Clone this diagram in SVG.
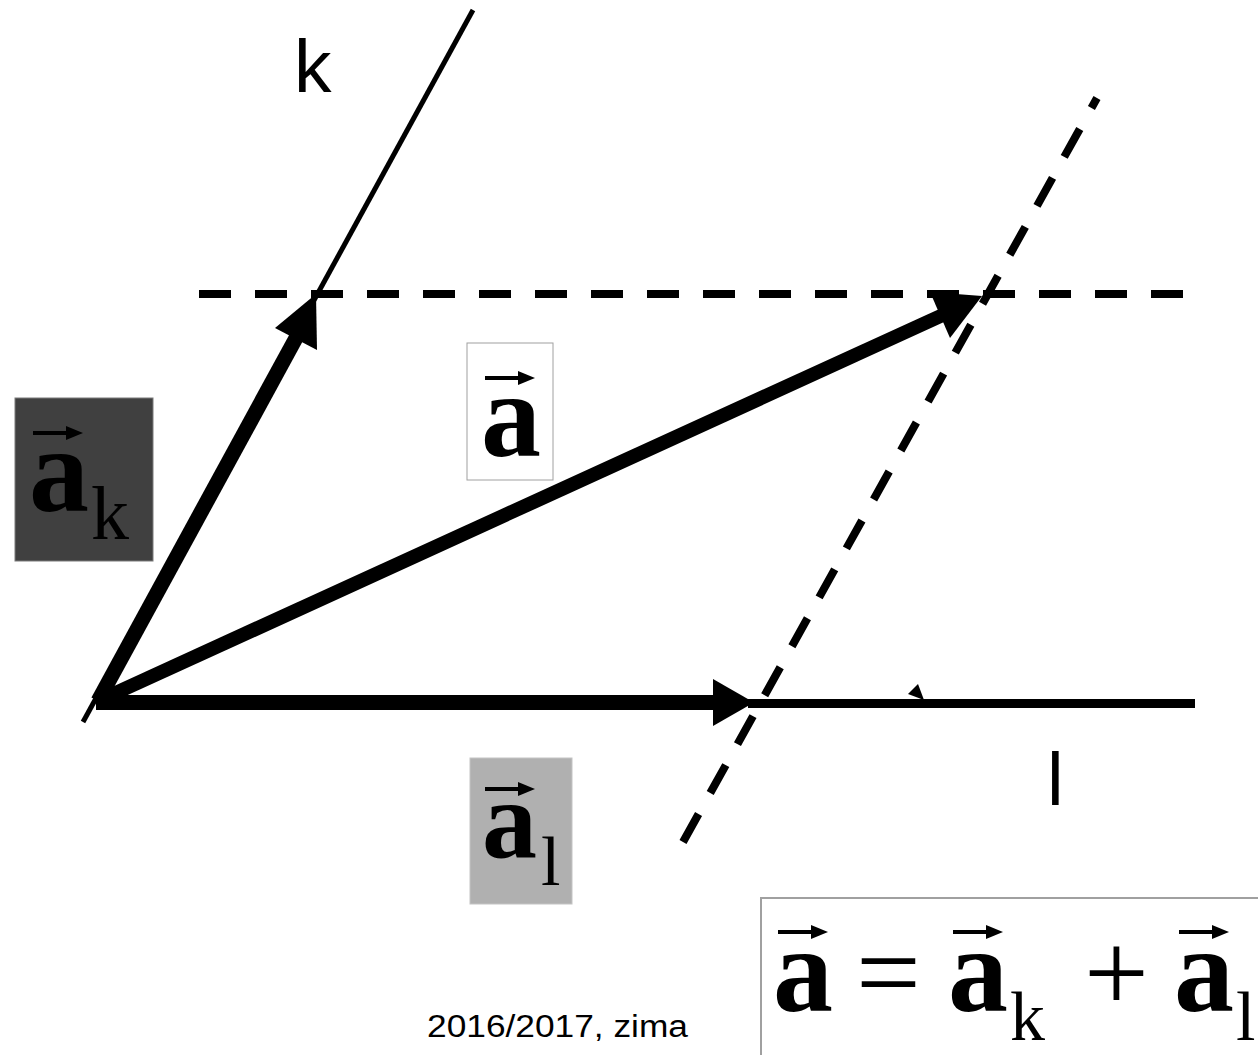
<svg xmlns="http://www.w3.org/2000/svg" xmlns:xlink="http://www.w3.org/1999/xlink" width="1258" height="1055" viewBox="0 0 1258 1055">
<style>
.bold{font-family:"Liberation Serif","Times New Roman",serif;font-weight:bold;fill:#000}
.reg{font-family:"Liberation Serif","Times New Roman",serif;fill:#000}
.sans{font-family:"Liberation Sans",Arial,sans-serif;fill:#000}
.dash{stroke:#000;stroke-width:8;stroke-dasharray:32 24;fill:none}
.thick{stroke:#000;fill:none}
</style>
<defs>
<g id="vec">
<line x1="0" y1="0" x2="36" y2="0" stroke="#000" stroke-width="4"/>
<polygon points="33,-7 50,0 33,7" fill="#000"/>
</g>
</defs>
<rect width="1258" height="1055" fill="#fff"/>

<g id="connectors">
<line x1="83" y1="722" x2="473" y2="10" stroke="#000" stroke-width="5"/>
<line class="dash" x1="199" y1="294" x2="1184" y2="294"/>
<line class="dash" x1="683" y1="842" x2="1097" y2="98"/>
<line x1="748" y1="703.5" x2="1195" y2="703.5" stroke="#000" stroke-width="9"/>
<polygon points="908,694 918,684 924,700" fill="#000"/>
<g id="arrow-ak">
<line class="thick" x1="98" y1="701" x2="296" y2="338" stroke-width="15"/>
<polygon points="316,294 275,328 317,350" fill="#000"/>
</g>
<g id="arrow-a">
<line class="thick" x1="98" y1="701" x2="945" y2="314" stroke-width="14"/>
<polygon points="930,292 982,296 950,338" fill="#000"/>
</g>
<g id="arrow-al">
<line class="thick" x1="96" y1="702.5" x2="716" y2="702.5" stroke-width="15"/>
<polygon points="713,679 754,702.5 713,726" fill="#000"/>
</g>
</g>

<g id="label-k"><text class="sans" x="294" y="92" font-size="75">k</text></g>
<g id="label-l"><text class="sans" x="1047" y="805" font-size="75">l</text></g>

<g id="node-ak">
<rect x="15" y="398" width="138" height="163" fill="#404040" stroke="#7a7a7a" stroke-width="1"/>
<use xlink:href="#vec" href="#vec" x="33" y="433"/>
<text class="bold" x="29" y="511" font-size="120">a</text>
<text class="reg" x="91" y="539" font-size="76">k</text>
</g>

<g id="node-a">
<rect x="467" y="343" width="86" height="137" fill="#fff" stroke="#a0a0a0" stroke-width="1"/>
<use xlink:href="#vec" href="#vec" x="485" y="378"/>
<text class="bold" x="481" y="456" font-size="120">a</text>
</g>

<g id="node-al">
<rect x="470" y="758" width="102" height="146" fill="#b0b0b0" stroke="#c4c4c4" stroke-width="1"/>
<use xlink:href="#vec" href="#vec" x="485" y="789"/>
<text class="bold" x="482" y="857" font-size="110">a</text>
<text class="reg" x="541" y="885" font-size="70">l</text>
</g>

<g id="node-eq">
<rect x="761" y="898" width="520" height="180" fill="#fff" stroke="#a0a0a0" stroke-width="2"/>
<use xlink:href="#vec" href="#vec" x="778" y="932"/>
<text class="bold" x="773" y="1011" font-size="120">a</text>
<text class="reg" x="856" y="1011" font-size="115">=</text>
<use xlink:href="#vec" href="#vec" x="953" y="932"/>
<text class="bold" x="948" y="1011" font-size="120">a</text>
<text class="reg" x="1010" y="1040" font-size="70">k</text>
<text class="reg" x="1084" y="1011" font-size="115">+</text>
<use xlink:href="#vec" href="#vec" x="1179" y="932"/>
<text class="bold" x="1174" y="1011" font-size="120">a</text>
<text class="reg" x="1236" y="1040" font-size="70">l</text>
</g>

<g id="footer"><text class="sans" x="427" y="1037" font-size="31" textLength="261" lengthAdjust="spacingAndGlyphs">2016/2017, zima</text></g>
</svg>
